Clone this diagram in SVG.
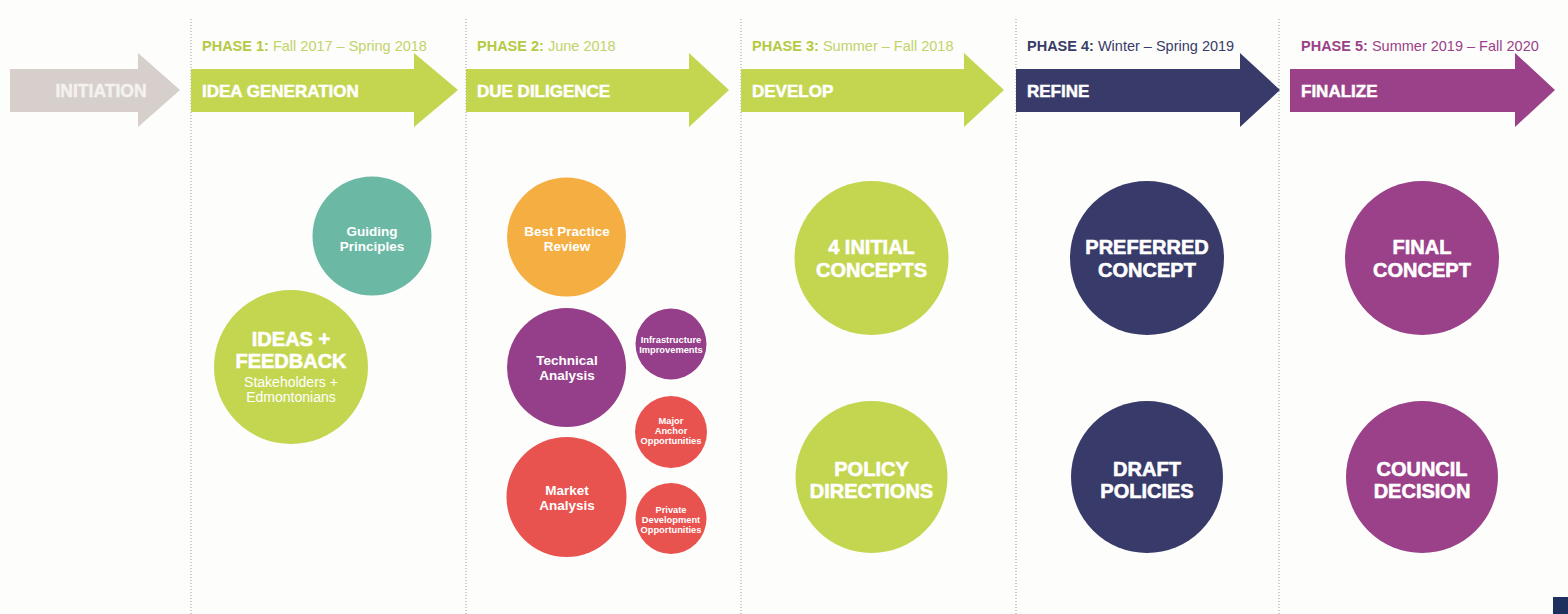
<svg xmlns="http://www.w3.org/2000/svg" width="1568" height="614" viewBox="0 0 1568 614">
<style>
  text { font-family: "Liberation Sans", Arial, sans-serif; }
  .sep { stroke: #9a9a9a; stroke-width: 1; stroke-dasharray: 1 2; fill: none; }
  .ph { font-size: 14.5px; }
  .phb { font-weight: bold; }
  .lbl { font-size: 17px; font-weight: bold; fill: #ffffff; stroke: #ffffff; stroke-width: 0.5; }
  .big { font-size: 20px; font-weight: bold; fill: #ffffff; text-anchor: middle; stroke: #ffffff; stroke-width: 0.6; }
  .mid { font-size: 13.5px; font-weight: bold; fill: #ffffff; text-anchor: middle; }
  .sm { font-size: 9.3px; font-weight: bold; fill: #ffffff; text-anchor: middle; }
  .sub { font-size: 14px; fill: #ffffff; text-anchor: middle; }
  .green { fill: #c4d650; }
  .navy { fill: #383b69; }
  .purple { fill: #9a4189; }
</style>
<rect x="0" y="0" width="1568" height="614" fill="#fdfdfb"/>

<g id="separators">
  <line class="sep" x1="191" y1="19" x2="191" y2="614"/>
  <line class="sep" x1="466" y1="19" x2="466" y2="614"/>
  <line class="sep" x1="741" y1="19" x2="741" y2="614"/>
  <line class="sep" x1="1016" y1="19" x2="1016" y2="614"/>
  <line class="sep" x1="1279" y1="19" x2="1279" y2="614"/>
</g>

<g id="initiation">
  <path d="M10,69 H138 V53 L180,90 L138,127 V112 H10 Z" fill="#d6cfcb"/>
  <text class="lbl" x="101" y="97" text-anchor="middle" style="font-size:17.5px;fill:#f4f1ef;stroke:#f4f1ef">INITIATION</text>
</g>

<g id="phase1">
  <text class="ph" x="202" y="51" fill="#b5c944"><tspan class="phb">PHASE 1:</tspan><tspan fill="#c2d36a"> Fall 2017 – Spring 2018</tspan></text>
  <path class="green" d="M191,69 H414 V53 L458,90 L414,127 V112 H191 Z"/>
  <text class="lbl" x="202" y="97">IDEA GENERATION</text>
</g>

<g id="phase2">
  <text class="ph" x="477" y="51" fill="#b5c944"><tspan class="phb">PHASE 2:</tspan><tspan fill="#c2d36a"> June 2018</tspan></text>
  <path class="green" d="M466,69 H689 V53 L729,90 L689,127 V112 H466 Z"/>
  <text class="lbl" x="477" y="97">DUE DILIGENCE</text>
</g>

<g id="phase3">
  <text class="ph" x="752" y="51" fill="#b5c944"><tspan class="phb">PHASE 3:</tspan><tspan fill="#c2d36a"> Summer – Fall 2018</tspan></text>
  <path class="green" d="M741,69 H964 V53 L1004,90 L964,127 V112 H741 Z"/>
  <text class="lbl" x="752" y="97">DEVELOP</text>
</g>

<g id="phase4">
  <text class="ph" x="1027" y="51" fill="#383b69"><tspan class="phb">PHASE 4:</tspan><tspan> Winter – Spring 2019</tspan></text>
  <path class="navy" d="M1016,69 H1240 V53 L1280,90 L1240,127 V112 H1016 Z"/>
  <text class="lbl" x="1027" y="97">REFINE</text>
</g>

<g id="phase5">
  <text class="ph" x="1301" y="51" fill="#9a4189"><tspan class="phb">PHASE 5:</tspan><tspan> Summer 2019 – Fall 2020</tspan></text>
  <path class="purple" d="M1290,69 H1515 V53 L1555,90 L1515,127 V112 H1290 Z"/>
  <text class="lbl" x="1301" y="97">FINALIZE</text>
</g>

<g id="guiding-principles">
  <circle cx="372" cy="236" r="59.5" fill="#6bb9a5"/>
  <text class="mid" x="372" y="236">Guiding</text>
  <text class="mid" x="372" y="251">Principles</text>
</g>

<g id="ideas-feedback">
  <circle cx="291" cy="367" r="77" class="green"/>
  <text class="big" x="291" y="346">IDEAS +</text>
  <text class="big" x="291" y="368">FEEDBACK</text>
  <text class="sub" x="291" y="387">Stakeholders +</text>
  <text class="sub" x="291" y="402">Edmontonians</text>
</g>

<g id="best-practice">
  <circle cx="566.5" cy="237" r="59.5" fill="#f5ae41"/>
  <text class="mid" x="567" y="236">Best Practice</text>
  <text class="mid" x="567" y="251">Review</text>
</g>

<g id="technical-analysis">
  <circle cx="566.5" cy="367.5" r="59.5" fill="#953f8a"/>
  <text class="mid" x="567" y="365">Technical</text>
  <text class="mid" x="567" y="380">Analysis</text>
</g>

<g id="infrastructure">
  <circle cx="671" cy="344" r="35.5" fill="#953f8a"/>
  <text class="sm" x="671" y="343">Infrastructure</text>
  <text class="sm" x="671" y="353">Improvements</text>
</g>

<g id="major-anchor">
  <circle cx="671" cy="432" r="36" fill="#e8534f"/>
  <text class="sm" x="671" y="424">Major</text>
  <text class="sm" x="671" y="434">Anchor</text>
  <text class="sm" x="671" y="444">Opportunities</text>
</g>

<g id="market-analysis">
  <circle cx="566.5" cy="497" r="60" fill="#e8534f"/>
  <text class="mid" x="567" y="495">Market</text>
  <text class="mid" x="567" y="510">Analysis</text>
</g>

<g id="private-development">
  <circle cx="671" cy="518.5" r="35.5" fill="#e8534f"/>
  <text class="sm" x="671" y="513">Private</text>
  <text class="sm" x="671" y="523">Development</text>
  <text class="sm" x="671" y="533">Opportunities</text>
</g>

<g id="initial-concepts">
  <circle cx="871.5" cy="258" r="77" class="green"/>
  <text class="big" x="871.5" y="254">4 INITIAL</text>
  <text class="big" x="871.5" y="277">CONCEPTS</text>
</g>

<g id="policy-directions">
  <circle cx="871.5" cy="477" r="76" class="green"/>
  <text class="big" x="871.5" y="476">POLICY</text>
  <text class="big" x="871.5" y="498">DIRECTIONS</text>
</g>

<g id="preferred-concept">
  <circle cx="1147" cy="258" r="77" class="navy"/>
  <text class="big" x="1147" y="254">PREFERRED</text>
  <text class="big" x="1147" y="277">CONCEPT</text>
</g>

<g id="draft-policies">
  <circle cx="1147" cy="477" r="76" class="navy"/>
  <text class="big" x="1147" y="476">DRAFT</text>
  <text class="big" x="1147" y="498">POLICIES</text>
</g>

<g id="final-concept">
  <circle cx="1422" cy="258" r="77" class="purple"/>
  <text class="big" x="1422" y="254">FINAL</text>
  <text class="big" x="1422" y="277">CONCEPT</text>
</g>

<g id="council-decision">
  <circle cx="1422" cy="477" r="76" class="purple"/>
  <text class="big" x="1422" y="476">COUNCIL</text>
  <text class="big" x="1422" y="498">DECISION</text>
</g>

<rect x="1553" y="597" width="15" height="17" fill="#1f2f5e"/>
</svg>
